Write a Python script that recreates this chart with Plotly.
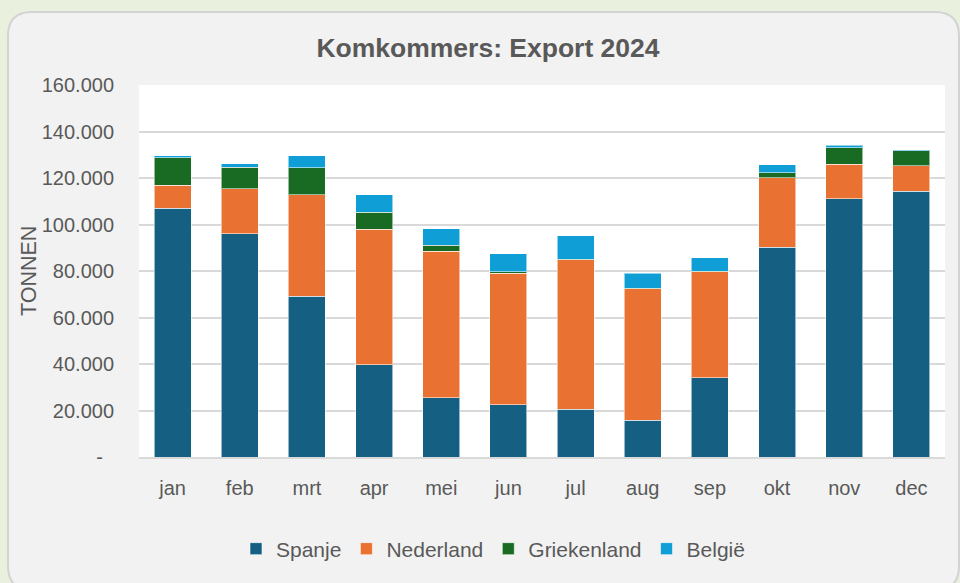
import plotly.graph_objects as go

months = ["jan", "feb", "mrt", "apr", "mei", "jun", "jul", "aug", "sep", "okt", "nov", "dec"]
spanje = [107000, 96000, 69200, 39600, 25400, 22400, 20600, 15900, 34000, 90300, 111000, 114400]
nederland = [9900, 19400, 43600, 58300, 63200, 56700, 64300, 56500, 45600, 29800, 14900, 10800]
griekenland = [11800, 9300, 11600, 7300, 2400, 600, 200, 100, 400, 2200, 7100, 6500]
belgie = [800, 1500, 5100, 7600, 7100, 7700, 10000, 6600, 5600, 3400, 1100, 500]

series_names = ["Spanje", "Nederland", "Griekenland", "België"]
series_values = [spanje, nederland, griekenland, belgie]
series_colors = ["#156082", "#E97132", "#196B24", "#0F9ED5"]

y_tickvals = [0, 20000, 40000, 60000, 80000, 100000, 120000, 140000, 160000]
y_ticktext = ["-\u2007", "20.000", "40.000", "60.000", "80.000", "100.000", "120.000", "140.000", "160.000"]

W, H = 960, 583
L, R, T, B = 139, 15, 85, 126
pw, ph = W - L - R, H - T - B

def px2paper(x, y):
    return (x - L) / pw, (H - B - y) / ph

def rounded_rect_path(x0, y0, x1, y1, r):
    def P(x, y):
        px, py = px2paper(x, y)
        return f"{px:.5f},{py:.5f}"
    return (
        f"M{P(x0 + r, y0)} L{P(x1 - r, y0)} "
        f"Q{P(x1, y0)} {P(x1, y0 + r)} "
        f"L{P(x1, y1 - r)} Q{P(x1, y1)} {P(x1 - r, y1)} "
        f"L{P(x0 + r, y1)} Q{P(x0, y1)} {P(x0, y1 - r)} "
        f"L{P(x0, y0 + r)} Q{P(x0, y0)} {P(x0 + r, y0)} Z"
    )

font_color = "#595959"
font_family = "Liberation Sans, Arial, sans-serif"

fig = go.Figure()
for name, vals, col in zip(series_names, series_values, series_colors):
    fig.add_trace(go.Bar(
        x=months, y=vals, name=name,
        marker=dict(color=col, line=dict(color="rgba(255,255,255,0.55)", width=1)),
    ))

shapes = [
    dict(type="path", xref="paper", yref="paper", layer="below",
         path=rounded_rect_path(8, 12, 959, 590, 24),
         fillcolor="#F2F2F2", line=dict(color="#D3D3D3", width=2)),
    dict(type="rect", xref="paper", yref="paper", layer="below",
         x0=0, x1=1, y0=0, y1=1, fillcolor="#FFFFFF", line=dict(width=0)),
]

fig.update_layout(
    width=W, height=H,
    margin=dict(l=L, r=R, t=T, b=B, autoexpand=False),
    barmode="stack",
    bargap=0.45,
    paper_bgcolor="#E9F1DE",
    plot_bgcolor="rgba(0,0,0,0)",
    font=dict(family=font_family, color=font_color, size=20),
    title=dict(text="<b>Komkommers: Export 2024</b>", x=488 / W, xanchor="center",
               y=1 - 48 / H, yanchor="middle",
               font=dict(size=26.5, color=font_color, family=font_family)),
    shapes=shapes,
    showlegend=True,
    legend=dict(orientation="h", x=493 / W, xref="container", xanchor="center",
                y=1 - 549 / H, yref="container", yanchor="middle",
                font=dict(size=21, color=font_color), itemwidth=30,
                traceorder="normal", bgcolor="rgba(0,0,0,0)"),
    xaxis=dict(showgrid=False, showline=True, linecolor="#D9D9D9", linewidth=1.5,
               ticks="", tickfont=dict(size=20, color=font_color),
               ticklabelstandoff=12, fixedrange=True),
    yaxis=dict(range=[0, 160000], tickvals=y_tickvals, ticktext=y_ticktext,
               showgrid=True, gridcolor="#D9D9D9", gridwidth=1.5,
               zeroline=False, showline=False, ticks="",
               tickfont=dict(size=20, color=font_color),
               ticklabelstandoff=24, fixedrange=True),
    annotations=[dict(text="TONNEN", textangle=-90, xref="paper", yref="paper",
                      x=px2paper(29, 0)[0], y=0.5, xanchor="center", yanchor="middle",
                      showarrow=False, font=dict(size=21.5, color=font_color))],
)

fig.write_html("out.html", post_script="document.body.style.margin='0';",
               config={"displayModeBar": False})
